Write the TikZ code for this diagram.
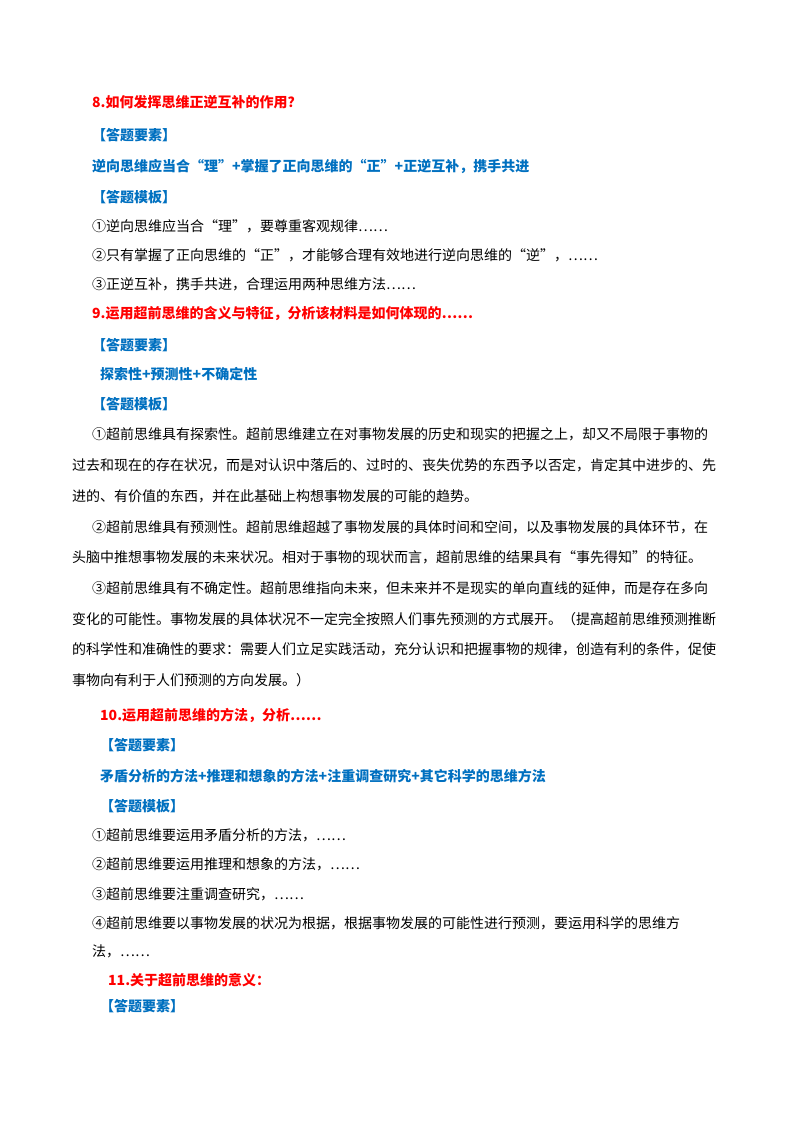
\documentclass[tikz,border=0pt]{standalone}
\usepackage{fontspec}
\setmainfont{Noto Sans CJK SC}
\definecolor{qred}{RGB}{255,0,0}
\definecolor{qblue}{RGB}{0,112,192}
\begin{document}
\begin{tikzpicture}[x=1pt,y=-1pt,
  t/.style={anchor=base west,inner sep=0pt,font=\fontsize{14}{16}\selectfont},
  rt/.style={t,text=qred,font=\fontsize{14}{16}\selectfont\bfseries},
  bt/.style={t,text=qblue,font=\fontsize{14}{16}\selectfont\bfseries}]
\useasboundingbox[fill=white] (0,0) rectangle (800,1132);
\node[rt] (q8) at (92,107) {8.如何发挥思维正逆互补的作用？};
\node[bt] (y8) at (92,140) {【答题要素】};
\node[bt] (k8) at (92,171) {逆向思维应当合“理”+掌握了正向思维的“正”+正逆互补，携手共进};
\node[bt] (m8) at (92,202) {【答题模板】};
\node[t] (a81) at (92,231) {①逆向思维应当合“理”，要尊重客观规律……};
\node[t] (a82) at (92,260) {②只有掌握了正向思维的“正”，才能够合理有效地进行逆向思维的“逆”，……};
\node[t] (a83) at (92,289) {③正逆互补，携手共进，合理运用两种思维方法……};
\node[rt] (q9) at (92,318) {9.运用超前思维的含义与特征，分析该材料是如何体现的……};
\node[bt] (y9) at (92,350) {【答题要素】};
\node[bt] (k9) at (100,379) {探索性+预测性+不确定性};
\node[bt] (m9) at (92,409) {【答题模板】};
\node[t] (p11) at (92,439) {①超前思维具有探索性。超前思维建立在对事物发展的历史和现实的把握之上，却又不局限于事物的};
\node[t] (p12) at (72,470) {过去和现在的存在状况，而是对认识中落后的、过时的、丧失优势的东西予以否定，肯定其中进步的、先};
\node[t] (p13) at (72,501) {进的、有价值的东西，并在此基础上构想事物发展的可能的趋势。};
\node[t] (p21) at (92,532) {②超前思维具有预测性。超前思维超越了事物发展的具体时间和空间，以及事物发展的具体环节，在};
\node[t] (p22) at (72,562) {头脑中推想事物发展的未来状况。相对于事物的现状而言，超前思维的结果具有“事先得知”的特征。};
\node[t] (p31) at (92,593) {③超前思维具有不确定性。超前思维指向未来，但未来并不是现实的单向直线的延伸，而是存在多向};
\node[t] (p32) at (72,624) {变化的可能性。事物发展的具体状况不一定完全按照人们事先预测的方式展开。（提高超前思维预测推断};
\node[t] (p33) at (72,654) {的科学性和准确性的要求：需要人们立足实践活动，充分认识和把握事物的规律，创造有利的条件，促使};
\node[t] (p34) at (72,685) {事物向有利于人们预测的方向发展。）};
\node[rt] (q10) at (100,720) {10.运用超前思维的方法，分析……};
\node[bt] (y10) at (100,750) {【答题要素】};
\node[bt] (k10) at (100,781) {矛盾分析的方法+推理和想象的方法+注重调查研究+其它科学的思维方法};
\node[bt] (m10) at (100,811) {【答题模板】};
\node[t] (a101) at (92,840) {①超前思维要运用矛盾分析的方法，……};
\node[t] (a102) at (92,869) {②超前思维要运用推理和想象的方法，……};
\node[t] (a103) at (92,899) {③超前思维要注重调查研究，……};
\node[t] (a104) at (92,928) {④超前思维要以事物发展的状况为根据，根据事物发展的可能性进行预测，要运用科学的思维方};
\node[t] (a105) at (92,956) {法，……};
\node[rt] (q11) at (108,985) {11.关于超前思维的意义：};
\node[bt] (y11) at (100,1011) {【答题要素】};
\end{tikzpicture}
\end{document}
